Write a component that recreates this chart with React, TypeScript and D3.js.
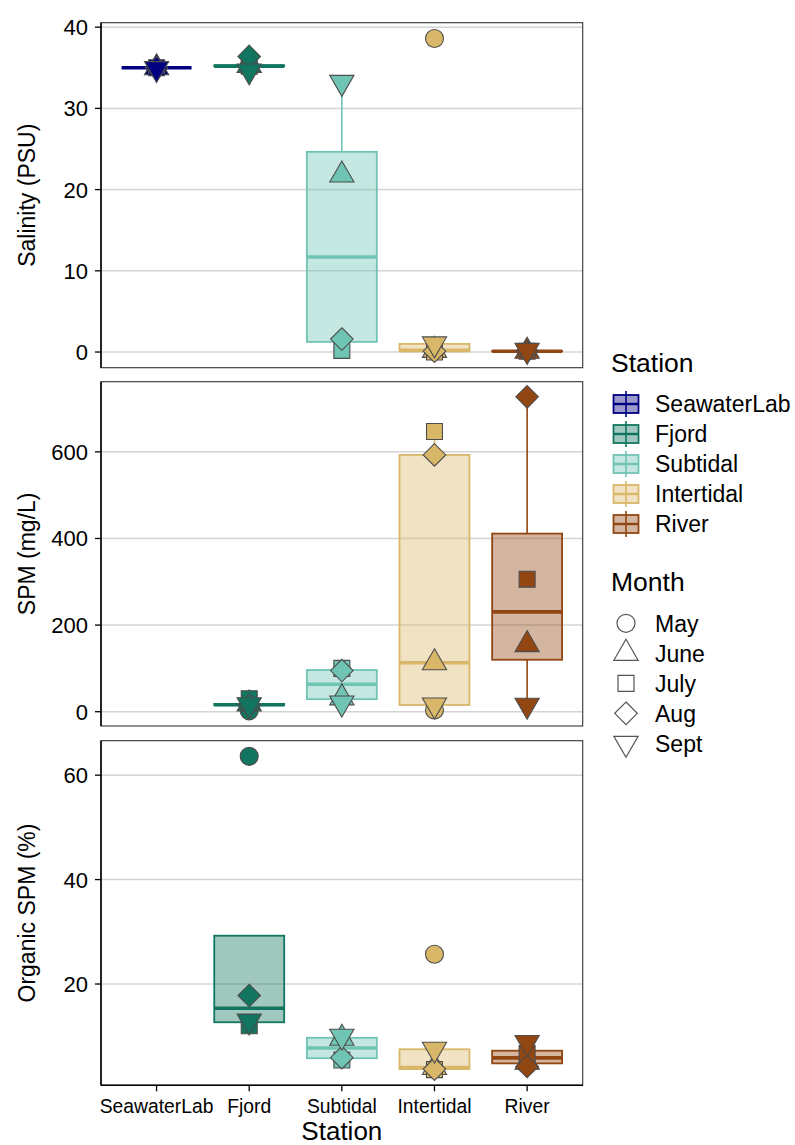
import React from "react";
import * as d3 from "d3";

// Stations along the x axis and their colours
const stations = ["SeawaterLab", "Fjord", "Subtidal", "Intertidal", "River"];
const stationColors = ["#000080", "#11755f", "#6fc4b3", "#d9b769", "#924612"];

// Sampling months and the point shape used for each
const months = ["May", "June", "July", "Aug", "Sept"];
const monthShapes = ["circle", "triangle", "square", "diamond", "triangleDown"];

// Measurements: one row per station, one column per month (null = not sampled)
const salinity: (number | null)[][] = [
  [35.0, 35.0, 35.0, 35.0, 34.9],
  [35.2, 35.3, 35.2, 36.4, 34.6],
  [null, 21.8, 0.2, 1.6, 33.2],
  [38.6, 0.2, 0.0, 0.1, 1.0],
  [null, 0.1, 0.1, 0.1, 0.2],
];
const spm: (number | null)[][] = [
  [null, null, null, null, null],
  [2, 18, 30, 15, 16],
  [null, 32, 100, 95, 20],
  [4, 113, 647, 593, 15.5],
  [null, 155, 306, 727, 15],
];
const organicSpm: (number | null)[][] = [
  [null, null, null, null, null],
  [63.6, null, 12.0, 17.8, 12.9],
  [null, 9.6, 5.45, 5.9, 10.0],
  [25.7, 4.0, 3.6, 3.7, 7.5],
  [null, 5.0, 6.7, 4.2, 8.8],
];

// Axis ticks
const salinityTicks = [0, 10, 20, 30, 40];
const spmTicks = [0, 200, 400, 600];
const organicTicks = [20, 40, 60];

const FONT = "'Liberation Sans', Arial, Helvetica, sans-serif";
const W = 795;
const H = 1145;
const plotLeft = 101;
const plotRight = 582.7;
const POINT_R = 9;
const POINT_STROKE = "#4d4d4d";

const panels = [
  { title: "Salinity (PSU)", values: salinity, domain: [-1.93, 40.55], ticks: salinityTicks, top: 22.7, bottom: 367.7 },
  { title: "SPM (mg/L)", values: spm, domain: [-33, 762], ticks: spmTicks, top: 381.7, bottom: 726 },
  { title: "Organic SPM (%)", values: organicSpm, domain: [0.6, 66.6], ticks: organicTicks, top: 740.7, bottom: 1085.3 },
];

const x = d3.scalePoint<string>().domain(stations).range([plotLeft, plotRight]).padding(0.6);
const step = x.step();
const boxWidth = step * 0.755;

function shapePath(shape: string, r: number): string {
  if (shape === "circle") {
    return `M${-r},0A${r},${r} 0 1,0 ${r},0A${r},${r} 0 1,0 ${-r},0Z`;
  }
  if (shape === "triangle" || shape === "triangleDown") {
    const t = r * 1.5551;
    const xc = t * 0.8660254;
    const s = shape === "triangle" ? 1 : -1;
    return `M0,${-t * s}L${xc},${(t / 2) * s}L${-xc},${(t / 2) * s}Z`;
  }
  if (shape === "square") {
    const h = r * 0.8862;
    return `M${-h},${-h}L${h},${-h}L${h},${h}L${-h},${h}Z`;
  }
  const d = r * 1.2533;
  return `M0,${-d}L${d},0L0,${d}L${-d},0Z`;
}

function boxStats(vals: number[]) {
  const s = [...vals].sort((a, b) => a - b);
  const q1 = d3.quantile(s, 0.25)!;
  const med = d3.quantile(s, 0.5)!;
  const q3 = d3.quantile(s, 0.75)!;
  const iqr = q3 - q1;
  const inside = s.filter((v) => v >= q1 - 1.5 * iqr && v <= q3 + 1.5 * iqr);
  const lo = Math.min(q1, d3.min(inside)!);
  const hi = Math.max(q3, d3.max(inside)!);
  return { q1, med, q3, lo, hi };
}

function Panel({ p, isLast }: { p: (typeof panels)[number]; isLast: boolean }) {
  const y = d3.scaleLinear().domain(p.domain).range([p.bottom, p.top]);
  const mid = (p.top + p.bottom) / 2;
  return (
    <g>
      {/* grid */}
      {p.ticks.map((t) => (
        <line key={"g" + t} x1={plotLeft} x2={plotRight} y1={y(t)} y2={y(t)} stroke="#d4d4d4" strokeWidth={1.5} />
      ))}
      {/* boxes */}
      {stations.map((st, i) => {
        const vals = p.values[i].filter((v): v is number => v !== null);
        if (vals.length === 0) return null;
        const b = boxStats(vals);
        const cx = x(st)!;
        const col = stationColors[i];
        return (
          <g key={"b" + st}>
            <line x1={cx} x2={cx} y1={y(b.q3)} y2={y(b.hi)} stroke={col} strokeWidth={1.6} />
            <line x1={cx} x2={cx} y1={y(b.q1)} y2={y(b.lo)} stroke={col} strokeWidth={1.6} />
            <rect
              x={cx - boxWidth / 2}
              width={boxWidth}
              y={y(b.q3)}
              height={Math.max(0, y(b.q1) - y(b.q3))}
              fill={col}
              fillOpacity={0.4}
              stroke={col}
              strokeWidth={1.8}
            />
            <line x1={cx - boxWidth / 2} x2={cx + boxWidth / 2} y1={y(b.med)} y2={y(b.med)} stroke={col} strokeWidth={3.6} />
          </g>
        );
      })}
      {/* points */}
      {stations.map((st, i) =>
        months.map((m, j) => {
          const v = p.values[i][j];
          if (v === null) return null;
          return (
            <path
              key={"p" + st + m}
              d={shapePath(monthShapes[j], POINT_R)}
              transform={`translate(${x(st)},${y(v)})`}
              fill={stationColors[i]}
              stroke={POINT_STROKE}
              strokeWidth={1.1}
            />
          );
        })
      )}
      {/* frame */}
      <rect x={plotLeft} y={p.top} width={plotRight - plotLeft} height={p.bottom - p.top} fill="none" stroke="#333" strokeWidth={1.1} />
      <line x1={plotLeft} x2={plotLeft} y1={p.top} y2={p.bottom} stroke="#000" strokeWidth={1.5} />
      {isLast && <line x1={plotLeft} x2={plotRight} y1={p.bottom} y2={p.bottom} stroke="#000" strokeWidth={1.5} />}
      {/* y axis */}
      {p.ticks.map((t) => (
        <g key={"t" + t}>
          <line x1={plotLeft - 6} x2={plotLeft} y1={y(t)} y2={y(t)} stroke="#000" strokeWidth={1.3} />
          <text x={88} y={y(t)} dy="0.36em" textAnchor="end" fontSize={22} fill="#000" fontFamily={FONT}>
            {t}
          </text>
        </g>
      ))}
      <text
        transform={`translate(35,${mid}) rotate(-90)`}
        textAnchor="middle"
        fontSize={23}
        fill="#000"
        fontFamily={FONT}
      >
        {p.title}
      </text>
      {/* x axis */}
      {isLast &&
        stations.map((st) => (
          <g key={"x" + st}>
            <line x1={x(st)} x2={x(st)} y1={p.bottom} y2={p.bottom + 6} stroke="#000" strokeWidth={1.3} />
            <text x={x(st)} y={1112.7} textAnchor="middle" fontSize={19.3} fill="#000" fontFamily={FONT}>
              {st}
            </text>
          </g>
        ))}
    </g>
  );
}

function Legends() {
  const lx = 611;
  const keyX = 626;
  const labelX = 655;
  const stationY = [404, 434, 464, 494, 524];
  const monthY = [623.3, 653.3, 683.3, 713.3, 743.3];
  return (
    <g fontFamily={FONT}>
      <text x={lx} y={372} fontSize={26.5} fill="#000">
        Station
      </text>
      {stations.map((st, i) => {
        const cy = stationY[i];
        const col = stationColors[i];
        return (
          <g key={"ls" + st}>
            <line x1={keyX} x2={keyX} y1={cy - 13} y2={cy + 13} stroke={col} strokeWidth={1.6} />
            <rect x={keyX - 12.5} y={cy - 9} width={25} height={18} fill={col} fillOpacity={0.4} stroke={col} strokeWidth={1.8} />
            <line x1={keyX - 12.5} x2={keyX + 12.5} y1={cy} y2={cy} stroke={col} strokeWidth={2.4} />
            <text x={labelX} y={cy} dy="0.36em" fontSize={23} fill="#000">
              {st}
            </text>
          </g>
        );
      })}
      <text x={lx} y={591} fontSize={26.5} fill="#000">
        Month
      </text>
      {months.map((m, j) => (
        <g key={"lm" + m}>
          <path
            d={shapePath(monthShapes[j], POINT_R)}
            transform={`translate(${keyX},${monthY[j]})`}
            fill="none"
            stroke="#555"
            strokeWidth={1.2}
          />
          <text x={labelX} y={monthY[j]} dy="0.36em" fontSize={23} fill="#000">
            {m}
          </text>
        </g>
      ))}
    </g>
  );
}

export default function App() {
  return (
    <svg
      width={W}
      height={H}
      viewBox={`0 0 ${W} ${H}`}
      style={{ position: "absolute", left: 0, top: 0, background: "#fff" }}
    >
      <rect width={W} height={H} fill="#fff" />
      {panels.map((p, i) => (
        <Panel key={p.title} p={p} isLast={i === panels.length - 1} />
      ))}
      <text x={(plotLeft + plotRight) / 2} y={1140} textAnchor="middle" fontSize={26} fill="#000" fontFamily={FONT}>
        Station
      </text>
      <Legends />
    </svg>
  );
}
